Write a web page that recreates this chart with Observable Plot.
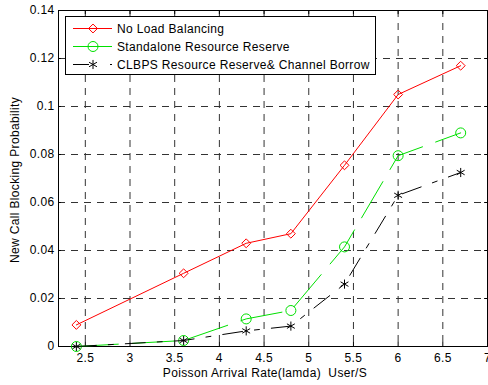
<!DOCTYPE html>
<html><head><meta charset="utf-8">
<script src="https://cdn.jsdelivr.net/npm/d3@7"></script>
<script src="https://cdn.jsdelivr.net/npm/@observablehq/plot@0.6"></script>
<style>body{margin:0;background:#fff}#c{position:relative;width:488px;height:385px}</style>
</head><body><div id="c"></div>
<script>
const xs = [2.4, 3.6, 4.3, 4.8, 5.4, 6.0, 6.7];
const noLoad = [0.009, 0.0305, 0.043, 0.047, 0.0755, 0.105, 0.117];
const standalone = [0, 0.0025, 0.0115, 0.015, 0.0415, 0.0795, 0.089];
const clbps = [0, 0.0025, 0.0065, 0.0085, 0.026, 0.063, 0.0725];
const xTicks = [2.5, 3, 3.5, 4, 4.5, 5, 5.5, 6, 6.5, 7];
const xTickLabels = ["2.5", "3", "3.5", "4", "4.5", "5", "5.5", "6", "6.5", "7"];
const yTicks = [0, 0.02, 0.04, 0.06, 0.08, 0.1, 0.12, 0.14];
const yTickLabels = ["0", "0.02", "0.04", "0.06", "0.08", "0.1", "0.12", "0.14"];
const seriesNames = ["No Load Balancing", "Standalone Resource Reserve", "CLBPS Resource Reserve& Channel Borrow"];

const series = [
  {name: seriesNames[0], ys: noLoad, color: "#ff0000", dash: null, symbol: "diamond2", r: 4},
  {name: seriesNames[1], ys: standalone, color: "#00e000", dash: "42,14", symbol: "circle", r: 5},
  {name: seriesNames[2], ys: clbps, color: "#000000", dash: "20,12,5,12", symbol: "asterisk", r: 4.3}
];
const rows = series.flatMap(s => xs.map((x, i) => ({x, y: s.ys[i], name: s.name})));

const tickLen = 0.0017, tickLenX = 0.032;
const font = "Liberation Sans, Arial, Helvetica, sans-serif";
const fs = 12, ls = "0.35px";

const marks = [
  Plot.gridX(xTicks, {stroke: "#333", strokeOpacity: 1, strokeDasharray: "7,6", strokeWidth: 1}),
  Plot.gridY(yTicks, {stroke: "#333", strokeOpacity: 1, strokeDasharray: "7,6", strokeWidth: 1}),
  Plot.ruleX(xTicks, {y1: 0, y2: tickLen, stroke: "#000"}),
  Plot.ruleX(xTicks, {y1: 0.14, y2: 0.14 - tickLen, stroke: "#000"}),
  Plot.ruleY(yTicks, {x1: 2.2, x2: 2.2 + tickLenX, stroke: "#000"}),
  Plot.ruleY(yTicks, {x1: 7, x2: 7 - tickLenX, stroke: "#000"}),
  Plot.frame({stroke: "#000"}),
  Plot.axisX(xTicks, {tickSize: 0, tickPadding: 7, fontSize: fs, fill: "#000", label: null,
    tickFormat: d => xTickLabels[xTicks.indexOf(d)]}),
  Plot.axisY(yTicks, {tickSize: 0, tickPadding: 4, fontSize: fs, fill: "#000", label: null,
    tickFormat: d => yTickLabels[yTicks.indexOf(d)]}),
];
for (const s of series) {
  const d = rows.filter(r => r.name === s.name);
  marks.push(Plot.line(d, {x: "x", y: "y", stroke: s.color, strokeWidth: 1, strokeDasharray: s.dash}));
  marks.push(Plot.dot(d, {x: "x", y: "y", stroke: s.color, symbol: s.symbol, r: s.r, strokeWidth: 1, fill: "none"}));
}

const chart = Plot.plot({
  width: 488, height: 385,
  marginLeft: 58, marginRight: 1, marginTop: 10, marginBottom: 39,
  style: {fontFamily: font, background: "#fff", overflow: "visible", letterSpacing: ls},
  x: {domain: [2.2, 7], label: null},
  y: {domain: [0, 0.14], label: null},
  marks
});
document.getElementById("c").appendChild(chart);

const svg = d3.select(chart);
svg.append("text").attr("x", 265).attr("y", 377).attr("text-anchor", "middle")
  .attr("font-size", fs).attr("font-family", font).attr("fill", "#000")
  .text("Poisson Arrival Rate(lamda)  User/S");
svg.append("text").attr("transform", "translate(19,180) rotate(-90)").attr("text-anchor", "middle")
  .attr("font-size", fs).attr("font-family", font).attr("fill", "#000")
  .text("New Call Blocking Probability");

// legend
const lg = svg.append("g");
lg.append("rect").attr("x", 65.5).attr("y", 16.5).attr("width", 310).attr("height", 58)
  .attr("fill", "#fff").attr("stroke", "#000").attr("stroke-width", 1);
const sym = {diamond2: d3.symbolDiamond2, circle: d3.symbolCircle, asterisk: d3.symbolAsterisk};
series.forEach((s, i) => {
  const cy = 28.5 + i * 18;
  lg.append("line").attr("x1", 73).attr("x2", 112).attr("y1", cy).attr("y2", cy)
    .attr("stroke", s.color).attr("stroke-width", 1)
    .attr("stroke-dasharray", i === 2 ? "16,21,3" : null);
  lg.append("path").attr("transform", `translate(93,${cy})`)
    .attr("d", d3.symbol(sym[s.symbol], Math.PI * s.r * s.r)())
    .attr("fill", "none").attr("stroke", s.color).attr("stroke-width", 1);
  lg.append("text").attr("x", 117).attr("y", cy + 4.3).attr("font-size", fs)
    .attr("text-anchor", "start")
    .attr("font-family", font).attr("fill", "#000").text(s.name);
});
</script></body></html>
